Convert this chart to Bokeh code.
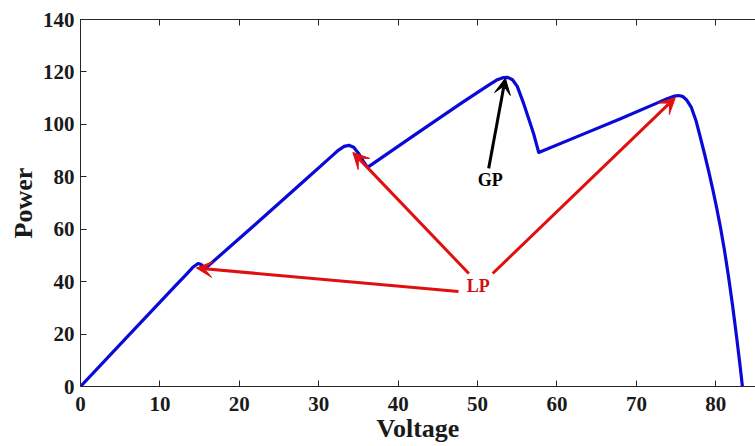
from bokeh.plotting import figure
from bokeh.models import Arrow, VeeHead, Label, LinearAxis, Range1d, FixedTicker
from bokeh.embed import file_html
from bokeh.resources import INLINE

# P-V curve (voltage, power)
voltage = [0, 6, 12, 13.3, 14.2, 14.8, 15.2, 15.7,
           22, 28, 31.5, 32.5, 33.2, 33.8, 34.4, 35.0, 35.6, 36.15,
           42, 48, 51.3, 52.4, 53.2, 53.8, 54.4, 55.0, 55.8, 56.4, 57.05, 57.7,
           63, 68, 72.5, 73.8, 74.8, 75.3, 75.8, 76.3, 76.9, 77.5, 78.1, 78.6,
           79.1, 79.6, 80.1, 80.6, 81.1, 81.6, 82.1, 82.6, 83.1, 83.35]
power = [0, 19.3, 38.6, 42.7, 45.6, 46.9, 46.5, 45.0,
         61.8, 78.0, 87.5, 90.2, 91.6, 92.0, 91.3, 89.0, 86.0, 83.6,
         95.8, 108.2, 114.8, 116.9, 117.8, 117.9, 117.0, 114.5, 108.0, 102.5, 96.5, 89.3,
         95.9, 102.1, 108.0, 109.7, 110.8, 111.0, 110.7, 109.4, 106.6, 101.5, 94.5, 88.5,
         82.2, 75.5, 68.3, 60.5, 51.8, 42.0, 31.2, 19.4, 6.8, 0]

x_ticks = [0, 10, 20, 30, 40, 50, 60, 70, 80]
y_ticks = [0, 20, 40, 60, 80, 100, 120, 140]

# Annotation arrows (start -> end), in data units
lp_x_start = [47.6, 48.9, 51.9]
lp_y_start = [36.2, 43.1, 43.1]
lp_x_end = [14.6, 34.3, 74.9]
lp_y_end = [45.2, 89.3, 110.2]
gp_x_start, gp_y_start, gp_x_end, gp_y_end = 51.4, 83.2, 53.5, 117.6
lp_label = ("LP", 50.1, 38.5)
gp_label = ("GP", 51.6, 78.6)

FONT = "Liberation Serif"
AX = "#262626"

p = figure(width=755, height=446, output_backend="svg", toolbar_location=None,
           x_range=Range1d(0, 85), y_range=Range1d(0, 140),
           x_axis_label="Voltage", y_axis_label="Power")
p.min_border_left = 80
p.min_border_right = 0
p.min_border_top = 19
p.min_border_bottom = 60
p.outline_line_color = None
p.background_fill_color = "white"
p.border_fill_color = "white"
p.xgrid.visible = False
p.ygrid.visible = False

for ax, ticks in ((p.xaxis[0], x_ticks), (p.yaxis[0], y_ticks)):
    ax.ticker = FixedTicker(ticks=ticks)
    ax.axis_line_color = AX
    ax.major_tick_line_color = AX
    ax.major_tick_in = 6
    ax.major_tick_out = 0
    ax.minor_tick_line_color = None
    ax.major_label_text_font = FONT
    ax.major_label_text_font_style = "bold"
    ax.major_label_text_font_size = "21px"
    ax.major_label_text_color = "#1a1a1a"
    ax.axis_label_text_font = FONT
    ax.axis_label_text_font_style = "bold"
    ax.axis_label_text_font_size = "26px"
    ax.axis_label_text_color = "#1a1a1a"

p.xaxis[0].major_label_standoff = 10
p.xaxis[0].axis_label_standoff = 0
p.yaxis[0].major_label_standoff = 6
p.yaxis[0].axis_label_standoff = 2

top = LinearAxis(ticker=FixedTicker(ticks=x_ticks), major_label_text_font_size="0px",
                 axis_line_color=AX, major_tick_line_color=AX, major_tick_in=6,
                 major_tick_out=0, minor_tick_line_color=None, major_label_standoff=0)
p.add_layout(top, "above")

p.line(voltage, power, line_color="#0a0ad8", line_width=3.2, line_join="round")

for xs, ys, xe, ye in zip(lp_x_start, lp_y_start, lp_x_end, lp_y_end):
    p.add_layout(Arrow(end=VeeHead(size=16, fill_color="#e01010", line_color="#e01010"),
                       x_start=xs, y_start=ys, x_end=xe, y_end=ye,
                       line_color="#e01010", line_width=3))
p.add_layout(Arrow(end=VeeHead(size=16, fill_color="black", line_color="black"),
                   x_start=gp_x_start, y_start=gp_y_start, x_end=gp_x_end, y_end=gp_y_end,
                   line_color="black", line_width=3))

p.add_layout(Label(x=lp_label[1], y=lp_label[2], text=lp_label[0], text_font=FONT,
                   text_font_style="bold", text_font_size="18px", text_color="#d01010",
                   text_align="center", text_baseline="middle"))
p.add_layout(Label(x=gp_label[1], y=gp_label[2], text=gp_label[0], text_font=FONT,
                   text_font_style="bold", text_font_size="18px", text_color="black",
                   text_align="center", text_baseline="middle"))

open("out.html", "w").write(file_html(p, INLINE))
